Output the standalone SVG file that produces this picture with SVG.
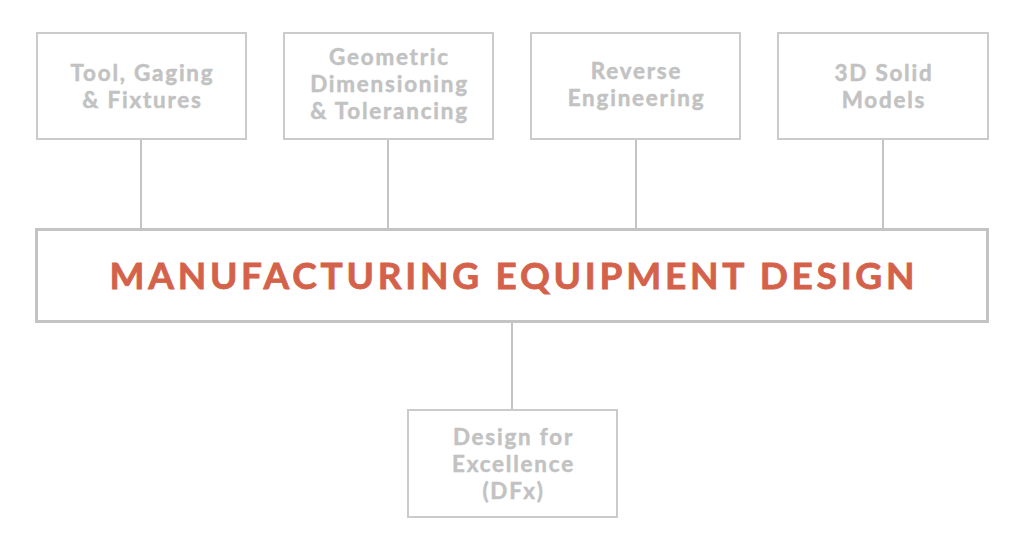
<svg xmlns="http://www.w3.org/2000/svg" width="1024" height="550" viewBox="0 0 1024 550">
<style>
.box{fill:#fff;stroke:#cbcbcb;stroke-width:2}
.main{fill:#fff;stroke:#c4c4c4;stroke-width:3}
.lbl{font-family:Lato,"Open Sans",sans-serif;font-weight:700;font-size:22.4px;letter-spacing:1.8px;fill:#c2c2c2;text-anchor:middle;stroke:#c2c2c2;stroke-width:0.5}
.title{font-family:Lato,"Open Sans",sans-serif;font-weight:700;font-size:37px;fill:#d4624a;text-anchor:middle;stroke:#d4624a;stroke-width:0.8}
.conn{stroke:#c4c4c4;stroke-width:2;fill:none}
</style>
<rect width="1024" height="550" fill="#fff"/>
<g id="connectors">
<line class="conn" x1="141" y1="139" x2="141" y2="229"/>
<line class="conn" x1="388" y1="139" x2="388" y2="229"/>
<line class="conn" x1="636" y1="139" x2="636" y2="229"/>
<line class="conn" x1="883" y1="139" x2="883" y2="229"/>
<line class="conn" x1="512" y1="321" x2="512" y2="410"/>
</g>
<g id="tool">
<rect class="box" x="37" y="33" width="209" height="106"/>
<text class="lbl" x="142.5" y="81">Tool, Gaging</text>
<text class="lbl" x="142.5" y="108">&amp; Fixtures</text>
</g>
<g id="gdt">
<rect class="box" x="284" y="33" width="209" height="106"/>
<text class="lbl" x="389.5" y="65">Geometric</text>
<text class="lbl" x="389.5" y="92">Dimensioning</text>
<text class="lbl" x="389.5" y="119">&amp; Tolerancing</text>
</g>
<g id="reverse">
<rect class="box" x="531" y="33" width="209" height="106"/>
<text class="lbl" x="636.5" y="79">Reverse</text>
<text class="lbl" x="636.5" y="106">Engineering</text>
</g>
<g id="solid">
<rect class="box" x="778" y="33" width="210" height="106"/>
<text class="lbl" x="884" y="81">3D Solid</text>
<text class="lbl" x="884" y="108">Models</text>
</g>
<g id="main">
<rect class="main" x="36.5" y="229.5" width="951" height="92"/>
<text class="title" x="512" y="289" textLength="805" lengthAdjust="spacing">MANUFACTURING EQUIPMENT DESIGN</text>
</g>
<g id="dfx">
<rect class="box" x="408" y="410" width="209" height="107"/>
<text class="lbl" x="513.5" y="445">Design for</text>
<text class="lbl" x="513.5" y="472">Excellence</text>
<text class="lbl" x="513.5" y="499">(DFx)</text>
</g>
</svg>
